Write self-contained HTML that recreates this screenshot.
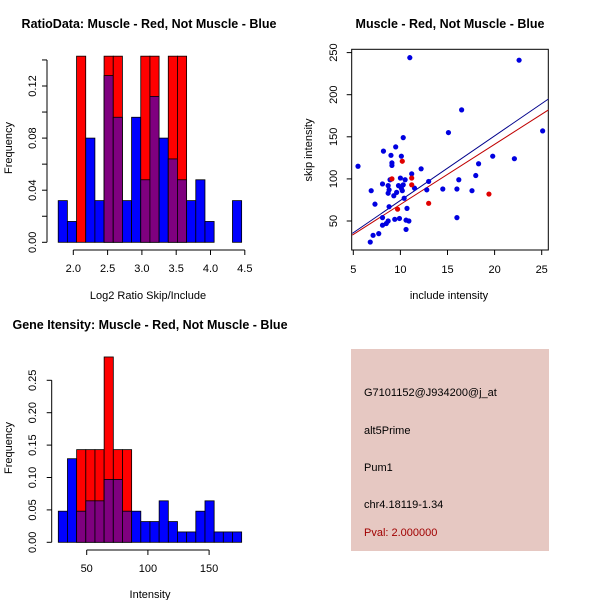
<!DOCTYPE html>
<html><head><meta charset="utf-8"><style>
body{margin:0;background:#fff;}
svg{display:block;font-family:"Liberation Sans",sans-serif;}
</style></head><body>
<svg id="s" width="600" height="600" xmlns="http://www.w3.org/2000/svg">
<rect x="0" y="0" width="600" height="600" fill="#fff"/>
<text x="149" y="28" font-size="12.5" font-weight="bold" text-anchor="middle">RatioData: Muscle - Red, Not Muscle - Blue</text>
<text x="450" y="28" font-size="12.5" font-weight="bold" text-anchor="middle">Muscle - Red, Not Muscle - Blue</text>
<text x="150" y="329" font-size="12.5" font-weight="bold" text-anchor="middle">Gene Itensity: Muscle - Red, Not Muscle - Blue</text>
<text x="148" y="299" font-size="11" text-anchor="middle">Log2 Ratio Skip/Include</text>
<text x="12" y="148" font-size="11" text-anchor="middle" transform="rotate(-90 12 148)">Frequency</text>
<text x="449" y="299" font-size="11" text-anchor="middle">include intensity</text>
<text x="312" y="150" font-size="11" text-anchor="middle" transform="rotate(-90 312 150)">skip intensity</text>
<text x="150" y="598" font-size="11" text-anchor="middle">Intensity</text>
<text x="12" y="448" font-size="11" text-anchor="middle" transform="rotate(-90 12 448)">Frequency</text>
<g>
<rect x="351" y="349" width="198" height="202" fill="#e6c8c2"/>
<text x="364" y="396" font-size="11">G7101152@J934200@j_at</text>
<text x="364" y="434" font-size="11">alt5Prime</text>
<text x="364" y="471" font-size="11">Pum1</text>
<text x="364" y="508" font-size="11">chr4.18119-1.34</text>
<text x="364" y="536" font-size="11" fill="#a00000">Pval: 2.000000</text>
</g>
</svg>
<script>
// Ratio histogram data
const ratioBinStart = 1.78;
const ratioBinWidth = 0.1337;
const ratioBlue = [0.032,0.016,0,0.08,0.032,0.128,0.096,0.032,0.096,0.048,0.112,0.08,0.064,0.048,0.032,0.048,0.016,0,0,0.032];
const ratioRed  = [0,0,0.1429,0,0,0.1429,0.1429,0,0,0.1429,0.1429,0,0.1429,0.1429,0,0,0,0,0,0];
const ratioXTicks = [2.0,2.5,3.0,3.5,4.0,4.5];
const ratioYTicks = [0,0.02,0.04,0.06,0.08,0.10,0.12,0.14];
const ratioYLabels = ["0.00","","0.04","","0.08","","0.12",""];
// Intensity histogram data
const intBinStart = 26.8;
const intBinWidth = 7.49;
const intBlue = [0.048,0.129,0.048,0.064,0.064,0.097,0.097,0.048,0.048,0.032,0.032,0.064,0.032,0.016,0.016,0.048,0.064,0.016,0.016,0.016];
const intRed  = [0,0,0.143,0.143,0.143,0.286,0.143,0.143,0,0,0,0,0,0,0,0,0,0,0,0];
const intXTicks = [50,100,150];
const intYTicks = [0,0.05,0.10,0.15,0.20,0.25];
const intYLabels = ["0.00","0.05","0.10","0.15","0.20","0.25"];
// Scatter data
const blueX = [5.5,6.8,6.9,7.1,7.3,7.7,8.1,8.2,8.1,8.1,8.5,8.7,8.7,8.7,8.8,8.9,8.8,9.0,9.1,9.1,9.3,9.4,9.5,9.6,9.8,9.9,10.0,10.1,10.1,10.2,10.3,10.3,10.4,10.5,10.6,10.6,10.7,10.9,11.0,11.2,11.5,12.2,12.8,13.0,14.5,15.1,16.0,16.0,16.2,16.5,17.6,18.0,18.3,19.8,22.1,22.6,25.1];
const blueY = [115,25,86,33,70,35,94,133,54,45,47,50,92,83,87,99,67,128,119,116,80,52,138,84,92,53,101,89,127,86,93,149,77,99,51,40,65,50,244,106,89,112,87,97,88,155,88,54,99,182,86,104,118,127,124,241,157];
const redX = [9.1,9.7,10.2,11.2,11.2,13.0,19.4];
const redY = [100,64,121,101,93,71,82];
const fitIntercept = [-2.3,-1.7]; // blue, red
const fitSlope = [7.67,7.14];
const scXTicks = [5,10,15,20,25];
const scYTicks = [50,100,150,200,250];

const NS="http://www.w3.org/2000/svg";
const svg=document.getElementById('s');
function mk(tag,attrs,parent){const e=document.createElementNS(NS,tag);for(const k in attrs)e.setAttribute(k,attrs[k]);(parent||svg).appendChild(e);return e;}

function hist(opts){
  const g=mk('g',{});
  
  
  const sx=v=>opts.x0+(v-opts.v0)*opts.kx, sy=v=>opts.y0-v*opts.ky;
  for(let i=0;i<opts.blue.length;i++){
    const a=opts.start+i*opts.width,b=a+opts.width;
    const x1=sx(a),x2=sx(b);
    const bl=opts.blue[i],rd=opts.red[i];
    if(rd>0){
      const r=mk('rect',{x:x1,y:sy(rd),width:x2-x1,height:sy(0)-sy(rd),fill:'#ff0000',stroke:'#000','stroke-width':0.8},g);
      
      
    }
    if(bl>0){
      const r=mk('rect',{x:x1,y:sy(bl),width:x2-x1,height:sy(0)-sy(bl),fill:rd>0?'#7f007f':'#0000ff',stroke:'#000','stroke-width':0.8},g);
      
      
    }
  }
  const xa=mk('g',{});
  
  
  const xt=opts.xticks;
  mk('line',{x1:sx(xt[0]),x2:sx(xt[xt.length-1]),y1:opts.axY,y2:opts.axY,stroke:'#000'},xa);
  xt.forEach(t=>{mk('line',{x1:sx(t),x2:sx(t),y1:opts.axY,y2:opts.axY+5,stroke:'#000'},xa);
    const tx=mk('text',{x:sx(t),y:opts.axY+22,'font-size':11,'text-anchor':'middle'},xa);tx.textContent=opts.xfmt(t);});
  const ya=mk('g',{});
  
  
  const yt=opts.yticks;
  mk('line',{x1:opts.axX,x2:opts.axX,y1:sy(yt[0]),y2:sy(yt[yt.length-1]),stroke:'#000'},ya);
  const lx=36;
  yt.forEach((t,i)=>{mk('line',{x1:opts.axX,x2:opts.axX-5,y1:sy(t),y2:sy(t),stroke:'#000'},ya);
    if(opts.ylabels[i]){const tx=mk('text',{x:lx,y:sy(t),'font-size':11,'text-anchor':'middle',transform:`rotate(-90 ${lx} ${sy(t)})`},ya);tx.textContent=opts.ylabels[i];}});
}
hist({name:'ratio-histogram',start:ratioBinStart,width:ratioBinWidth,blue:ratioBlue,red:ratioRed,
  x0:73.3,v0:2.0,kx:68.6,y0:242.3,ky:1302.5,axY:250,axX:47,xticks:ratioXTicks,yticks:ratioYTicks,ylabels:ratioYLabels,xfmt:t=>t.toFixed(1)});
hist({name:'intensity-histogram',start:intBinStart,width:intBinWidth,blue:intBlue,red:intRed,
  x0:86.7,v0:50,kx:1.224,y0:542.3,ky:648,axY:550,axX:51.7,xticks:intXTicks,yticks:intYTicks,ylabels:intYLabels,xfmt:t=>String(t)});

(function(){
  const sx=v=>353.3+(v-5)*9.42, sy=v=>221-(v-50)*0.842;
  const g=mk('g',{});
  
  
  mk('rect',{x:351.7,y:49.3,width:196.6,height:200.7,fill:'none',stroke:'#000'},g);
  const clip=mk('clipPath',{id:'sc'});mk('rect',{x:351.7,y:49.3,width:196.6,height:200.7},clip);
  const cols=['#00008b','#c00000'];
  for(let i=0;i<2;i++){
    const xa=4.9,xb=26;
    const l=mk('line',{x1:sx(xa),y1:sy(fitIntercept[i]+fitSlope[i]*xa),x2:sx(xb),y2:sy(fitIntercept[i]+fitSlope[i]*xb),stroke:cols[i],'stroke-width':1,'clip-path':'url(#sc)'},g);
    
    
  }
  blueX.forEach((x,i)=>{const c=mk('circle',{cx:sx(x),cy:sy(blueY[i]),r:2.6,fill:'#0000e0'},g);
    
    });
  redX.forEach((x,i)=>{const c=mk('circle',{cx:sx(x),cy:sy(redY[i]),r:2.6,fill:'#e00000'},g);
    
    });
  scXTicks.forEach(t=>{mk('line',{x1:sx(t),x2:sx(t),y1:250,y2:255,stroke:'#000'},g);
    const tx=mk('text',{x:sx(t),y:273,'font-size':11,'text-anchor':'middle'},g);tx.textContent=t;});
  scYTicks.forEach(t=>{mk('line',{x1:351.7,x2:346.7,y1:sy(t),y2:sy(t),stroke:'#000'},g);
    const tx=mk('text',{x:337,y:sy(t),'font-size':11,'text-anchor':'middle',transform:`rotate(-90 337 ${sy(t)})`},g);tx.textContent=t;});
})();
</script>
</body></html>
